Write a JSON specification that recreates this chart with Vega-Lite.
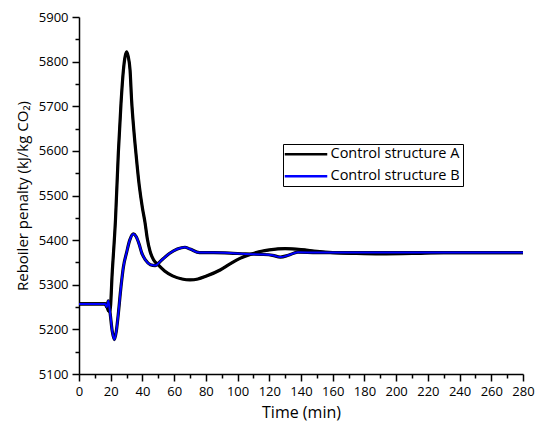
{
  "$schema": "https://vega.github.io/schema/vega-lite/v6.json",
  "width": 444,
  "height": 357,
  "autosize": {"type": "none"},
  "padding": {"left": 79, "top": 17, "right": 13, "bottom": 50},
  "background": "white",
  "config": {
    "view": {"stroke": null},
    "font": "Open Sans",
    "axis": {"grid": false, "domainColor": "black", "domainWidth": 1.5, "tickColor": "black", "tickWidth": 1.5, "labelColor": "black", "titleColor": "black", "labelFont": "Open Sans", "titleFont": "Open Sans", "titleFontWeight": "normal"},
    "legend": {"labelFont": "Open Sans", "labelColor": "black"}
  },
  "data": {
    "values": [
      {"t": 0, "v": 5257, "s": "Control structure A"},
      {"t": 17, "v": 5257, "s": "Control structure A"},
      {"t": 18.5, "v": 5242, "s": "Control structure A"},
      {"t": 19.5, "v": 5240, "s": "Control structure A"},
      {"t": 21, "v": 5330, "s": "Control structure A"},
      {"t": 23, "v": 5445, "s": "Control structure A"},
      {"t": 24.8, "v": 5595, "s": "Control structure A"},
      {"t": 26.5, "v": 5707, "s": "Control structure A"},
      {"t": 28, "v": 5781, "s": "Control structure A"},
      {"t": 29, "v": 5810, "s": "Control structure A"},
      {"t": 30, "v": 5822, "s": "Control structure A"},
      {"t": 31, "v": 5812, "s": "Control structure A"},
      {"t": 32.2, "v": 5781, "s": "Control structure A"},
      {"t": 33.2, "v": 5712, "s": "Control structure A"},
      {"t": 34.5, "v": 5650, "s": "Control structure A"},
      {"t": 35.9, "v": 5595, "s": "Control structure A"},
      {"t": 38, "v": 5522, "s": "Control structure A"},
      {"t": 40, "v": 5472, "s": "Control structure A"},
      {"t": 41.6, "v": 5440, "s": "Control structure A"},
      {"t": 43, "v": 5405, "s": "Control structure A"},
      {"t": 44.8, "v": 5375, "s": "Control structure A"},
      {"t": 47, "v": 5356, "s": "Control structure A"},
      {"t": 49.8, "v": 5345, "s": "Control structure A"},
      {"t": 54, "v": 5331, "s": "Control structure A"},
      {"t": 59, "v": 5320, "s": "Control structure A"},
      {"t": 65, "v": 5313, "s": "Control structure A"},
      {"t": 70, "v": 5311, "s": "Control structure A"},
      {"t": 75, "v": 5313, "s": "Control structure A"},
      {"t": 80, "v": 5319, "s": "Control structure A"},
      {"t": 89, "v": 5333, "s": "Control structure A"},
      {"t": 95, "v": 5346, "s": "Control structure A"},
      {"t": 101.5, "v": 5359, "s": "Control structure A"},
      {"t": 108, "v": 5368, "s": "Control structure A"},
      {"t": 115, "v": 5375, "s": "Control structure A"},
      {"t": 120, "v": 5378, "s": "Control structure A"},
      {"t": 130, "v": 5381, "s": "Control structure A"},
      {"t": 140, "v": 5379, "s": "Control structure A"},
      {"t": 150, "v": 5375, "s": "Control structure A"},
      {"t": 160, "v": 5372, "s": "Control structure A"},
      {"t": 175, "v": 5370, "s": "Control structure A"},
      {"t": 190, "v": 5369, "s": "Control structure A"},
      {"t": 210, "v": 5370, "s": "Control structure A"},
      {"t": 230, "v": 5372, "s": "Control structure A"},
      {"t": 280, "v": 5372, "s": "Control structure A"},
      {"t": 0, "v": 5257, "s": "Control structure B"},
      {"t": 16.5, "v": 5257, "s": "Control structure B"},
      {"t": 17.5, "v": 5250, "s": "Control structure B"},
      {"t": 18.5, "v": 5264, "s": "Control structure B"},
      {"t": 19.5, "v": 5240, "s": "Control structure B"},
      {"t": 21, "v": 5195, "s": "Control structure B"},
      {"t": 22.3, "v": 5177, "s": "Control structure B"},
      {"t": 23.5, "v": 5195, "s": "Control structure B"},
      {"t": 24.5, "v": 5225, "s": "Control structure B"},
      {"t": 26.5, "v": 5296, "s": "Control structure B"},
      {"t": 28, "v": 5340, "s": "Control structure B"},
      {"t": 30, "v": 5372, "s": "Control structure B"},
      {"t": 32, "v": 5400, "s": "Control structure B"},
      {"t": 34.3, "v": 5414, "s": "Control structure B"},
      {"t": 36, "v": 5408, "s": "Control structure B"},
      {"t": 38, "v": 5390, "s": "Control structure B"},
      {"t": 39.5, "v": 5372, "s": "Control structure B"},
      {"t": 42, "v": 5355, "s": "Control structure B"},
      {"t": 45, "v": 5345, "s": "Control structure B"},
      {"t": 48, "v": 5343, "s": "Control structure B"},
      {"t": 52, "v": 5355, "s": "Control structure B"},
      {"t": 57, "v": 5370, "s": "Control structure B"},
      {"t": 62, "v": 5380, "s": "Control structure B"},
      {"t": 66.8, "v": 5384, "s": "Control structure B"},
      {"t": 70, "v": 5380, "s": "Control structure B"},
      {"t": 76, "v": 5372, "s": "Control structure B"},
      {"t": 85, "v": 5372, "s": "Control structure B"},
      {"t": 95, "v": 5371, "s": "Control structure B"},
      {"t": 105, "v": 5369, "s": "Control structure B"},
      {"t": 115, "v": 5368, "s": "Control structure B"},
      {"t": 122, "v": 5366, "s": "Control structure B"},
      {"t": 127, "v": 5362, "s": "Control structure B"},
      {"t": 132, "v": 5366, "s": "Control structure B"},
      {"t": 138, "v": 5373, "s": "Control structure B"},
      {"t": 150, "v": 5372, "s": "Control structure B"},
      {"t": 280, "v": 5372, "s": "Control structure B"}
    ]
  },
  "encoding": {
    "x": {
      "field": "t", "type": "quantitative",
      "scale": {"domain": [0, 280], "nice": false, "zero": false},
      "axis": {
        "title": "Time (min)",
        "titleFontSize": 16, "titlePadding": 6,
        "values": [0,10,20,30,40,50,60,70,80,90,100,110,120,130,140,150,160,170,180,190,200,210,220,230,240,250,260,270,280],
        "labelExpr": "datum.value % 20 == 0 ? datum.label : ''",
        "labelFontSize": 13, "labelPadding": 4,
        "tickSize": {"condition": {"test": "datum.value % 20 == 0", "value": 7}, "value": 4},
        "labelFlush": false, "labelOverlap": false
      }
    },
    "y": {
      "field": "v", "type": "quantitative",
      "scale": {"domain": [5100, 5900], "nice": false, "zero": false},
      "axis": {
        "title": "Reboiler penalty (kJ/kg CO₂)",
        "titleFontSize": 15, "titlePadding": 8,
        "values": [5100,5150,5200,5250,5300,5350,5400,5450,5500,5550,5600,5650,5700,5750,5800,5850,5900],
        "format": "d",
        "labelExpr": "datum.value % 100 == 0 ? datum.label : ''",
        "labelFontSize": 13, "labelPadding": 4,
        "tickSize": {"condition": {"test": "datum.value % 100 == 0", "value": 7}, "value": 4},
        "labelFlush": false, "labelOverlap": false
      }
    }
  },
  "layer": [
    {
      "mark": {"type": "line", "color": "black", "strokeWidth": 3.2, "interpolate": "monotone"},
      "encoding": {"detail": {"field": "s", "type": "nominal"}}
    },
    {
      "mark": {"type": "line", "strokeWidth": 2, "interpolate": "monotone"},
      "encoding": {
        "color": {
          "field": "s", "type": "nominal",
          "scale": {"domain": ["Control structure A", "Control structure B"], "range": ["#000000", "#0000ff"]},
          "legend": {
            "title": null,
            "orient": "none", "legendX": 204, "legendY": 127,
            "symbolType": "M-1.7,0H6.8", "symbolSize": 100, "symbolStrokeWidth": 2.5,
            "labelFontSize": 14.5, "labelOffset": 30,
            "padding": 3, "strokeColor": "black",
            "rowPadding": 7
          }
        }
      }
    }
  ]
}
